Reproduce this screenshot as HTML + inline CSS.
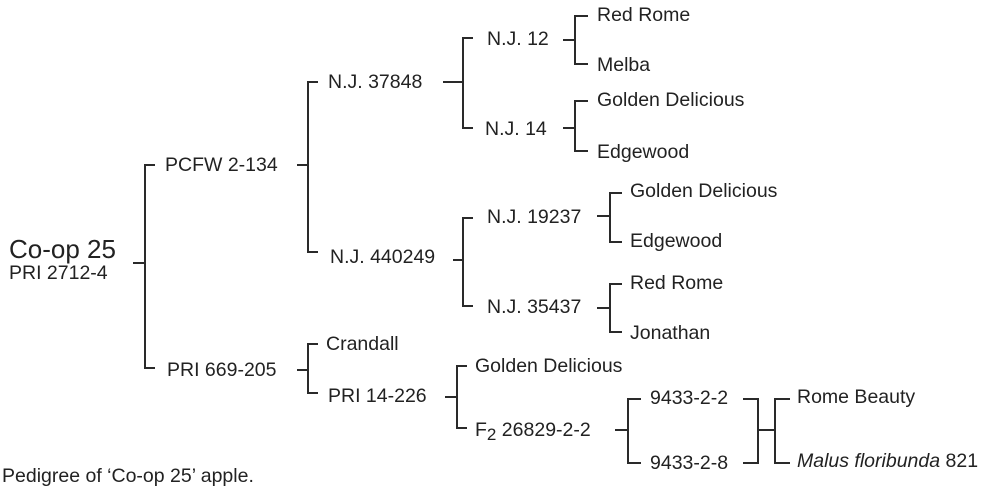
<!DOCTYPE html>
<html><head><style>
body{margin:0;background:#fff}
svg{display:block}
text{font-family:"Liberation Sans",sans-serif;font-size:19.5px;fill:#222;dominant-baseline:central}
</style></head><body>
<svg width="1002" height="489" viewBox="0 0 1002 489">
<g stroke="#2a2a2a" stroke-width="2" fill="none">
<path d="M133 263H145M155 165H145V368H155"/>
<path d="M297 165H308M318 82H308V252H318"/>
<path d="M443 82H463M473 38H463V128H473"/>
<path d="M453 260H463M473 218H463V306H473"/>
<path d="M563 40H575M588 16H575V64H588"/>
<path d="M563 128H575M588 101H575V151H588"/>
<path d="M597 216H610M622 193H610V242H622"/>
<path d="M597 308H610M622 284H610V332H622"/>
<path d="M297 370H308M318 344H308V393H318"/>
<path d="M445 397H457M467 366H457V428H467"/>
<path d="M615 430H628M641 399H628V463H641"/>
<path d="M743 399H758V463H743M758 430H775M790 399H775V463H790"/>
</g>
<text x="9" y="249" style="font-size:26px">Co-op 25</text>
<text x="9" y="273">PRI 2712-4</text>
<text x="165" y="165">PCFW 2-134</text>
<text x="328" y="82">N.J. 37848</text>
<text x="330" y="257">N.J. 440249</text>
<text x="487" y="39">N.J. 12</text>
<text x="485" y="129">N.J. 14</text>
<text x="487" y="217">N.J. 19237</text>
<text x="487" y="307">N.J. 35437</text>
<text x="597" y="15">Red Rome</text>
<text x="597" y="65">Melba</text>
<text x="597" y="100">Golden Delicious</text>
<text x="597" y="152">Edgewood</text>
<text x="630" y="191">Golden Delicious</text>
<text x="630" y="241">Edgewood</text>
<text x="630" y="283">Red Rome</text>
<text x="630" y="333">Jonathan</text>
<text x="167" y="370">PRI 669-205</text>
<text x="326" y="344">Crandall</text>
<text x="328" y="396">PRI 14-226</text>
<text x="475" y="366">Golden Delicious</text>
<text x="475" y="430">F<tspan dy="4" style="font-size:17px">2</tspan><tspan dy="-4"> 26829-2-2</tspan></text>
<text x="650" y="398">9433-2-2</text>
<text x="650" y="463">9433-2-8</text>
<text x="797" y="397">Rome Beauty</text>
<text x="797" y="461"><tspan font-style="italic">Malus floribunda</tspan> 821</text>
<text x="2" y="476">Pedigree of ‘Co-op 25’ apple.</text>
</svg>
</body></html>
